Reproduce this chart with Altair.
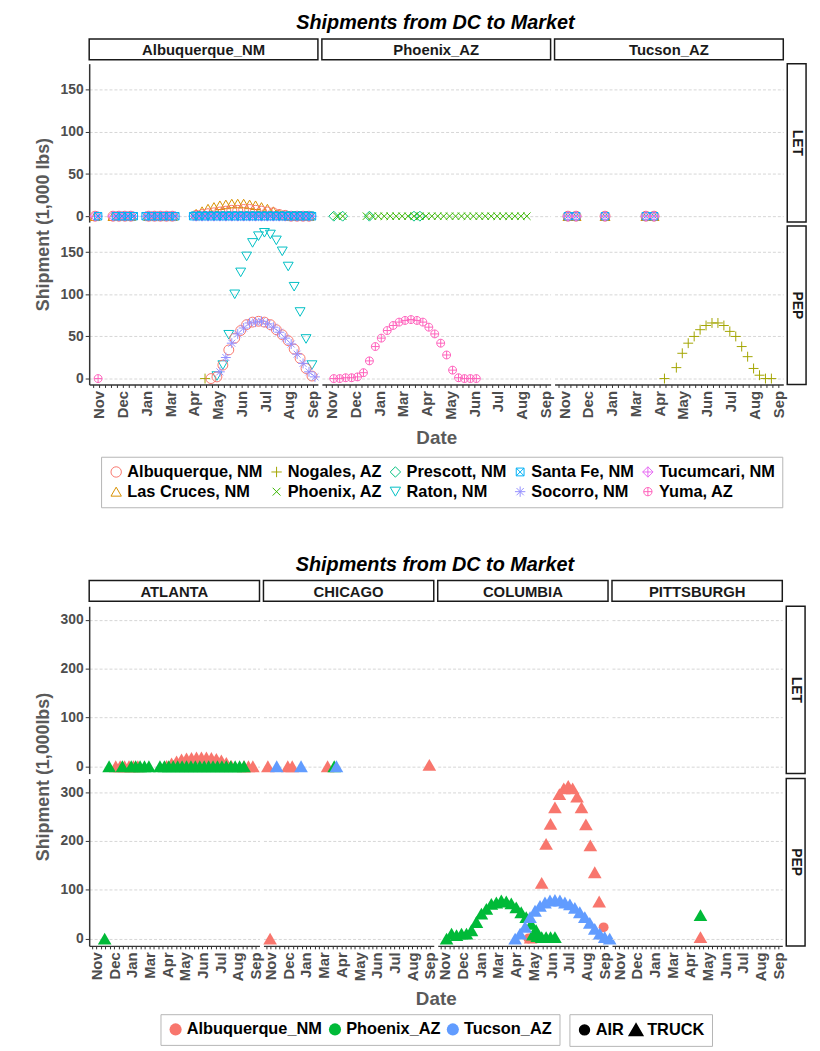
import altair as alt
import pandas as pd

FONT = "Liberation Sans, Arial, Helvetica, sans-serif"

# ---------------- shared x (date) settings ----------------
X_START = "2014-11-14"
X_END = "2015-09-18"
X_LABEL_DATES = ["2014-11-27", "2014-12-29", "2015-01-30", "2015-03-03", "2015-04-04",
                 "2015-05-06", "2015-06-07", "2015-07-09", "2015-08-10", "2015-09-11"]
X_TICK_START = "2014-11-19"
X_TICK_STEP_DAYS = 8
TYPES = ["LET", "PEP"]

# ---------------- top chart data ----------------
TOP_DCS = ["Albuquerque_NM", "Phoenix_AZ", "Tucson_AZ"]
TOP_MARKETS = ["Albuquerque, NM", "Nogales, AZ", "Prescott, NM", "Santa Fe, NM", "Tucumcari, NM",
               "Las Cruces, NM", "Phoenix, AZ", "Raton, NM", "Socorro, NM", "Yuma, AZ"]
TOP_COLORS = ["#F8766D", "#A3A500", "#00BF7D", "#00B0F6", "#E76BF3",
              "#D89000", "#39B600", "#00BFC4", "#9590FF", "#FF62BC"]
TOP_SHAPES = [
    "circle",
    "M-1,0L1,0M0,-1L0,1",
    "diamond",
    "M-0.75,-0.75H0.75V0.75H-0.75ZM-0.75,-0.75L0.75,0.75M-0.75,0.75L0.75,-0.75",
    "M0,-1L1,0L0,1L-1,0ZM-1,0L1,0M0,-1L0,1",
    "triangle-up",
    "M-0.75,-0.75L0.75,0.75M-0.75,0.75L0.75,-0.75",
    "triangle-down",
    "M-1,0L1,0M0,-1L0,1M-0.7,-0.7L0.7,0.7M-0.7,0.7L0.7,-0.7",
    "M-0.8,0A0.8,0.8,0,1,1,0.8,0A0.8,0.8,0,1,1,-0.8,0ZM-0.8,0L0.8,0M0,-0.8L0,0.8",
]
TOP_Y_TICKS = [0, 50, 100, 150]
TOP_Y_DOMAIN = [-7, 181]

# (dc, type, market, start date, step days, values)
TOP_SEGMENTS = [
    # Albuquerque_NM / LET
    ("Albuquerque_NM", "LET", "Las Cruces, NM", "2014-11-22", 8, [0]),
    ("Albuquerque_NM", "LET", "Las Cruces, NM", "2014-12-16", 8, [0, 0, 0, 0]),
    ("Albuquerque_NM", "LET", "Las Cruces, NM", "2015-02-02", 8, [0, 0, 0, 0, 0]),
    ("Albuquerque_NM", "LET", "Las Cruces, NM", "2015-04-07", 8,
     [3, 6, 9, 11, 13, 14, 15, 15, 15, 14, 13, 11, 9, 6, 3, 1, 0, 0, 0, 0]),
    ("Albuquerque_NM", "LET", "Albuquerque, NM", "2014-11-22", 8, [0]),
    ("Albuquerque_NM", "LET", "Albuquerque, NM", "2014-12-16", 8, [0, 0, 0, 0]),
    ("Albuquerque_NM", "LET", "Albuquerque, NM", "2015-02-02", 8, [0, 0, 0, 0, 0]),
    ("Albuquerque_NM", "LET", "Albuquerque, NM", "2015-04-07", 8,
     [1, 2, 3, 4, 5, 6, 7, 7, 8, 8, 7, 6, 5, 4, 2, 1, 0, 0, 0, 0]),
    ("Albuquerque_NM", "LET", "Socorro, NM", "2014-11-26", 8, [0]),
    ("Albuquerque_NM", "LET", "Socorro, NM", "2014-12-20", 8, [0, 0, 0, 0]),
    ("Albuquerque_NM", "LET", "Socorro, NM", "2015-01-29", 8, [0, 0, 0, 0, 0, 0]),
    ("Albuquerque_NM", "LET", "Socorro, NM", "2015-04-03", 8, [0] * 21),
    ("Albuquerque_NM", "LET", "Raton, NM", "2015-04-07", 8, [0] * 20),
    ("Albuquerque_NM", "LET", "Tucumcari, NM", "2014-11-22", 8, [0]),
    ("Albuquerque_NM", "LET", "Tucumcari, NM", "2014-12-16", 8, [0, 0, 0, 0]),
    ("Albuquerque_NM", "LET", "Tucumcari, NM", "2015-02-02", 8, [0, 0, 0, 0, 0]),
    ("Albuquerque_NM", "LET", "Tucumcari, NM", "2015-04-07", 8, [0] * 20),
    ("Albuquerque_NM", "LET", "Santa Fe, NM", "2014-11-26", 8, [0]),
    ("Albuquerque_NM", "LET", "Santa Fe, NM", "2014-12-20", 8, [0, 0, 0, 0]),
    ("Albuquerque_NM", "LET", "Santa Fe, NM", "2015-01-29", 8, [0, 0, 0, 0, 0, 0]),
    ("Albuquerque_NM", "LET", "Santa Fe, NM", "2015-04-03", 8, [0] * 21),
    # Albuquerque_NM / PEP
    ("Albuquerque_NM", "PEP", "Yuma, AZ", "2014-11-26", 8, [0]),
    ("Albuquerque_NM", "PEP", "Nogales, AZ", "2015-04-19", 8, [0]),
    ("Albuquerque_NM", "PEP", "Raton, NM", "2015-05-05", 8,
     [3, 16, 52, 100, 126, 145, 161, 169, 173, 171, 164, 151, 133, 109, 79, 47, 16]),
    ("Albuquerque_NM", "PEP", "Albuquerque, NM", "2015-04-27", 8,
     [0, 2, 16, 34, 48, 57, 64, 67, 68, 67, 64, 58, 52, 45, 35, 24, 12, 3]),
    ("Albuquerque_NM", "PEP", "Socorro, NM", "2015-05-09", 8,
     [8, 25, 42, 53, 60, 66, 67, 68, 65, 61, 55, 48, 41, 29, 18, 8, 2]),
    # Phoenix_AZ / LET
    ("Phoenix_AZ", "LET", "Prescott, NM", "2014-11-30", 12, [0, 0]),
    ("Phoenix_AZ", "LET", "Prescott, NM", "2015-01-17", 8, [0]),
    ("Phoenix_AZ", "LET", "Prescott, NM", "2015-03-18", 8, [0, 0]),
    ("Phoenix_AZ", "LET", "Phoenix, AZ", "2014-12-04", 8, [0, 0]),
    ("Phoenix_AZ", "LET", "Phoenix, AZ", "2015-01-13", 8, [0] * 28),
    # Phoenix_AZ / PEP
    ("Phoenix_AZ", "PEP", "Yuma, AZ", "2014-11-30", 8,
     [0, 0, 1, 1, 2, 7, 21, 38, 48, 57, 63, 67, 69, 70, 69, 67, 61, 53, 42, 28, 10, 1, 0, 0, 0]),
    # Tucson_AZ / LET
    ("Tucson_AZ", "LET", "Las Cruces, NM", "2014-12-02", 11, [0, 0]),
    ("Tucson_AZ", "LET", "Las Cruces, NM", "2015-01-21", 8, [0]),
    ("Tucson_AZ", "LET", "Las Cruces, NM", "2015-03-17", 11, [0, 0]),
    ("Tucson_AZ", "LET", "Albuquerque, NM", "2014-12-02", 11, [0, 0]),
    ("Tucson_AZ", "LET", "Albuquerque, NM", "2015-01-21", 8, [0]),
    ("Tucson_AZ", "LET", "Albuquerque, NM", "2015-03-17", 11, [0, 0]),
    ("Tucson_AZ", "LET", "Santa Fe, NM", "2014-12-02", 11, [0, 0]),
    ("Tucson_AZ", "LET", "Santa Fe, NM", "2015-01-21", 8, [0]),
    ("Tucson_AZ", "LET", "Santa Fe, NM", "2015-03-17", 11, [0, 0]),
    ("Tucson_AZ", "LET", "Tucumcari, NM", "2014-12-02", 11, [0, 0]),
    ("Tucson_AZ", "LET", "Tucumcari, NM", "2015-01-21", 8, [0]),
    ("Tucson_AZ", "LET", "Tucumcari, NM", "2015-03-17", 11, [0, 0]),
    # Tucson_AZ / PEP
    ("Tucson_AZ", "PEP", "Nogales, AZ", "2015-04-11", 8, [0]),
    ("Tucson_AZ", "PEP", "Nogales, AZ", "2015-04-27", 8,
     [13, 30, 42, 50, 58, 63, 66, 66, 63, 56, 50, 38, 26, 12, 4, 0, 0]),
]

# ---------------- bottom chart data ----------------
BOTTOM_MARKETS = ["ATLANTA", "CHICAGO", "COLUMBIA", "PITTSBURGH"]
BOTTOM_DCS = ["Albuquerque_NM", "Phoenix_AZ", "Tucson_AZ"]
BOTTOM_COLORS = ["#F8766D", "#00BA38", "#619CFF"]
MODES = ["AIR", "TRUCK"]
MODE_SHAPES = ["circle", "triangle-up"]
MODE_SIZES = [100, 190]
BOTTOM_Y_TICKS = [0, 100, 200, 300]
BOTTOM_Y_DOMAIN = [-15, 328]

# (market, type, dc, mode, start date, step days, values)
BOTTOM_SEGMENTS = [
    ("ATLANTA", "LET", "Albuquerque_NM", "TRUCK", "2015-01-01", 8, [0, 0, 0, 0, 0, 0]),
    ("ATLANTA", "LET", "Albuquerque_NM", "TRUCK", "2015-04-03", 9,
     [1, 6, 10, 14, 16, 17, 18, 18, 18, 17, 15, 12, 7, 1]),
    ("ATLANTA", "LET", "Albuquerque_NM", "TRUCK", "2015-08-21", 8, [0, 0, 0]),
    ("ATLANTA", "LET", "Phoenix_AZ", "TRUCK", "2014-12-20", 8, [0]),
    ("ATLANTA", "LET", "Phoenix_AZ", "TRUCK", "2015-01-13", 8, [0]),
    ("ATLANTA", "LET", "Phoenix_AZ", "TRUCK", "2015-01-29", 8, [0, 0, 0, 0, 0]),
    ("ATLANTA", "LET", "Phoenix_AZ", "TRUCK", "2015-03-22", 8, [0] * 20),
    ("CHICAGO", "LET", "Albuquerque_NM", "TRUCK", "2014-11-22", 8, [0]),
    ("CHICAGO", "LET", "Albuquerque_NM", "TRUCK", "2014-12-28", 8, [0, 0]),
    ("CHICAGO", "LET", "Albuquerque_NM", "TRUCK", "2015-03-10", 8, [0]),
    ("CHICAGO", "LET", "Albuquerque_NM", "TRUCK", "2015-09-10", 8, [3]),
    ("CHICAGO", "LET", "Phoenix_AZ", "TRUCK", "2015-03-22", 8, [0]),
    ("CHICAGO", "LET", "Tucson_AZ", "TRUCK", "2014-12-08", 8, [0]),
    ("CHICAGO", "LET", "Tucson_AZ", "TRUCK", "2015-01-21", 8, [0]),
    ("CHICAGO", "LET", "Tucson_AZ", "TRUCK", "2015-03-26", 8, [0]),
    ("ATLANTA", "PEP", "Phoenix_AZ", "TRUCK", "2014-12-12", 8, [0]),
    ("CHICAGO", "PEP", "Albuquerque_NM", "TRUCK", "2014-11-26", 8, [0]),
    ("COLUMBIA", "PEP", "Albuquerque_NM", "TRUCK", "2015-05-01", 8, [2]),
    ("COLUMBIA", "PEP", "Albuquerque_NM", "TRUCK", "2015-05-21", 8,
     [114, 194, 235, 269, 296, 308, 313, 308, 291, 269, 234, 191, 136, 76]),
    ("COLUMBIA", "PEP", "Albuquerque_NM", "AIR", "2015-04-27", 8, [0]),
    ("COLUMBIA", "PEP", "Albuquerque_NM", "AIR", "2015-09-10", 8, [23]),
    ("COLUMBIA", "PEP", "Phoenix_AZ", "TRUCK", "2014-11-30", 9,
     [0, 10, 7, 10, 10, 17, 34, 51, 61, 71, 74, 78, 76, 72, 64, 54, 44, 30, 17]),
    ("COLUMBIA", "PEP", "Phoenix_AZ", "TRUCK", "2015-05-05", 8, [8, 5, 3, 3, 3, 3]),
    ("COLUMBIA", "PEP", "Tucson_AZ", "TRUCK", "2015-04-03", 9,
     [0, 10, 24, 44, 57, 67, 74, 78, 79, 78, 74, 70, 63, 54, 44, 32, 20, 10, 3, 0]),
    ("PITTSBURGH", "PEP", "Albuquerque_NM", "TRUCK", "2015-04-23", 8, [3]),
    ("PITTSBURGH", "PEP", "Phoenix_AZ", "TRUCK", "2015-04-23", 8, [48]),
]


def build(segs, cols):
    rows = []
    for seg in segs:
        keys, start, step, vals = seg[:-3], seg[-3], seg[-2], seg[-1]
        t0 = pd.Timestamp(start)
        for k, v in enumerate(vals):
            d = t0 + pd.Timedelta(days=step * k)
            row = dict(zip(cols, keys))
            row["date"] = d.strftime("%Y-%m-%d")
            row["value"] = v
            rows.append(row)
    return pd.DataFrame(rows)


top_df = build(TOP_SEGMENTS, ["dc", "type", "market"])
bot_df = build(BOTTOM_SEGMENTS, ["market", "type", "dc", "mode"])


def ms(s):
    return int(pd.Timestamp(s).value // 10**6)


X_DOMAIN = [ms(X_START), ms(X_END)]
TICK_VALUES = [ms(d) for d in pd.date_range(X_TICK_START, X_END, freq=f"{X_TICK_STEP_DAYS}D")]
LABEL_MS = [ms(d) for d in X_LABEL_DATES]
LABEL_EXPR = ("indexof([" + ",".join(str(v) for v in LABEL_MS) +
              "], time(datum.value)) >= 0 ? utcFormat(datum.value, '%b') : ''")

LABEL_COLOR = "#4d4d4d"
TITLE_COLOR = "#5a5a5a"
GRID = dict(grid=True, gridColor="#d6d6d6", gridDash=[3, 2], gridWidth=1)


def x_enc(show_axis, title=None, title_x=None):
    if not show_axis:
        axis = None
    else:
        kw = dict(values=TICK_VALUES, labelExpr=LABEL_EXPR, labelAngle=270, labelOverlap=False,
                  labelFlush=False, labelBound=False, tickSize=3, grid=False,
                  labelFont=FONT, labelFontSize=15, labelFontWeight="bold", labelColor=LABEL_COLOR,
                  labelPadding=3, domainColor="#333333", domainWidth=1.5, tickColor="#333333",
                  title=title, titleFont=FONT, titleFontSize=19, titleFontWeight="bold",
                  titleColor=TITLE_COLOR, titlePadding=9)
        if title_x is not None:
            kw["titleX"] = title_x
        axis = alt.Axis(**kw)
    return alt.X("date:T", scale=alt.Scale(type="utc", domain=X_DOMAIN, nice=False), axis=axis)


def y_enc(ticks, domain, first, title=None, title_y=None):
    kw = dict(values=ticks, labels=first, ticks=first, domain=first, tickSize=4,
              labelFont=FONT, labelFontSize=14, labelFontWeight="bold", labelColor=LABEL_COLOR,
              labelPadding=2, domainColor="#333333", domainWidth=1.5, tickColor="#333333",
              title=title, titleFont=FONT, titleFontSize=18, titleFontWeight="bold",
              titleColor=TITLE_COLOR, titlePadding=8, **GRID)
    if title_y is not None:
        kw["titleY"] = title_y
    return alt.Y("value:Q", scale=alt.Scale(domain=domain, nice=False, zero=False),
                 axis=alt.Axis(**kw))


def col_strip(label, w, h):
    d = pd.DataFrame({"t": [label]})
    rect = alt.Chart(d).mark_rect(fill="white", stroke="#1a1a1a", strokeWidth=1.5).encode(
        x=alt.value(0), x2=alt.value(w), y=alt.value(0), y2=alt.value(h))
    txt = alt.Chart(d).mark_text(font=FONT, fontSize=15, fontWeight="bold", color="#1a1a1a").encode(
        text="t:N", x=alt.value(w / 2), y=alt.value(h / 2 + 1))
    return alt.layer(rect, txt).properties(width=w, height=h)


def row_strip(label, w, h):
    d = pd.DataFrame({"t": [label]})
    rect = alt.Chart(d).mark_rect(fill="white", stroke="#1a1a1a", strokeWidth=1.5).encode(
        x=alt.value(0), x2=alt.value(w), y=alt.value(0), y2=alt.value(h))
    txt = alt.Chart(d).mark_text(font=FONT, fontSize=14, fontWeight="bold", color="#1a1a1a",
                                 angle=90).encode(
        text="t:N", x=alt.value(w / 2), y=alt.value(h / 2))
    return alt.layer(rect, txt).properties(width=w, height=h)


def blank(w, h):
    d = pd.DataFrame({"t": [""]})
    return alt.Chart(d).mark_text().encode(text="t:N").properties(width=w, height=h)


TITLE = alt.TitleParams("Shipments from DC to Market", font=FONT, fontSize=20, fontWeight="bold",
                        fontStyle="italic", color="black", anchor="middle", offset=5, dx=15)

# ---------------- top chart ----------------
TW, TH, SW, SH = 231, 160, 19, 21

top_legend = alt.Legend(orient="none", legendX=12, legendY=422, direction="horizontal",
                        columns=5, title=None,
                        labelFont=FONT, labelFontSize=16.5, labelFontWeight="bold", labelColor="black",
                        symbolSize=110, symbolStrokeWidth=1, symbolFillColor="transparent",
                        strokeColor="#b5b5b5", padding=7,
                        rowPadding=3, columnPadding=5, labelLimit=300, labelOffset=3)


def top_panel(dc, typ, ci):
    bottom = typ == "PEP"
    return alt.Chart(top_df).transform_filter(
        (alt.datum.dc == dc) & (alt.datum.type == typ)
    ).mark_point(filled=False, size=100, strokeWidth=1, opacity=1).encode(
        x=x_enc(bottom, title=("Date" if (bottom and ci == 1) else None)),
        y=y_enc(TOP_Y_TICKS, TOP_Y_DOMAIN, ci == 0,
                title=("Shipment (1,000 lbs)" if (ci == 0 and typ == "LET") else None),
                title_y=(TH + 2 if (ci == 0 and typ == "LET") else None)),
        color=alt.Color("market:N", scale=alt.Scale(domain=TOP_MARKETS, range=TOP_COLORS),
                        legend=top_legend),
        shape=alt.Shape("market:N", scale=alt.Scale(domain=TOP_MARKETS, range=TOP_SHAPES),
                        legend=top_legend),
    ).properties(width=TW, height=TH)


top_cells = [col_strip(dc, TW, SH) for dc in TOP_DCS] + [blank(SW, SH)]
for typ in TYPES:
    top_cells += [top_panel(dc, typ, i) for i, dc in enumerate(TOP_DCS)]
    top_cells.append(row_strip(typ, SW, TH))

top_chart = alt.concat(*top_cells, columns=4, bounds="flush", align="each",
                       spacing=alt.RowColnumber(row=4, column=4)).properties(title=TITLE)

# ---------------- bottom chart ----------------
BW, BH = 172, 169

color_legend = alt.Legend(orient="none", legendX=72, legendY=438, direction="horizontal",
                          title=None, symbolType="circle",
                          labelFont=FONT, labelFontSize=16.5, labelFontWeight="bold", labelColor="black",
                          symbolSize=150, strokeColor="#b5b5b5", padding=7, labelLimit=300,
                          columnPadding=4, labelOffset=3)
shape_legend = alt.Legend(orient="none", legendX=485, legendY=438, direction="horizontal",
                          title=None,
                          labelFont=FONT, labelFontSize=16.5, labelFontWeight="bold", labelColor="black",
                          symbolFillColor="black", symbolStrokeColor="black",
                          strokeColor="#b5b5b5", padding=7, columnPadding=2, labelOffset=3)


def bottom_panel(mk, typ, ci):
    bottom = typ == "PEP"
    return alt.Chart(bot_df).transform_filter(
        (alt.datum.market == mk) & (alt.datum.type == typ)
    ).mark_point(filled=True, opacity=1, strokeWidth=0).encode(
        x=x_enc(bottom, title=("Date" if (bottom and ci == 1) else None),
                title_x=(BW + 2 if (bottom and ci == 1) else None)),
        y=y_enc(BOTTOM_Y_TICKS, BOTTOM_Y_DOMAIN, ci == 0,
                title=("Shipment (1,000lbs)" if (ci == 0 and typ == "LET") else None),
                title_y=(BH + 3 if (ci == 0 and typ == "LET") else None)),
        color=alt.Color("dc:N", scale=alt.Scale(domain=BOTTOM_DCS, range=BOTTOM_COLORS),
                        legend=color_legend),
        shape=alt.Shape("mode:N", scale=alt.Scale(domain=MODES, range=MODE_SHAPES),
                        legend=shape_legend),
        size=alt.Size("mode:N", scale=alt.Scale(domain=MODES, range=MODE_SIZES),
                      legend=shape_legend),
    ).properties(width=BW, height=BH)


bot_cells = [col_strip(m, BW, SH) for m in BOTTOM_MARKETS] + [blank(SW, SH)]
for typ in TYPES:
    bot_cells += [bottom_panel(m, typ, i) for i, m in enumerate(BOTTOM_MARKETS)]
    bot_cells.append(row_strip(typ, SW, BH))

bottom_chart = alt.concat(*bot_cells, columns=5, bounds="flush", align="each",
                          spacing=alt.RowColnumber(row=5, column=4)).properties(title=TITLE)

chart = alt.vconcat(top_chart, bottom_chart, spacing=47).resolve_scale(
    color="independent", shape="independent", size="independent",
    x="independent", y="independent"
).properties(
    padding={"left": 26, "top": 0, "right": 5, "bottom": 5}
).configure_view(stroke=None).configure_axis(labelFont=FONT, titleFont=FONT)

chart.save("out.html", embed_options={"renderer": "svg", "actions": False})
